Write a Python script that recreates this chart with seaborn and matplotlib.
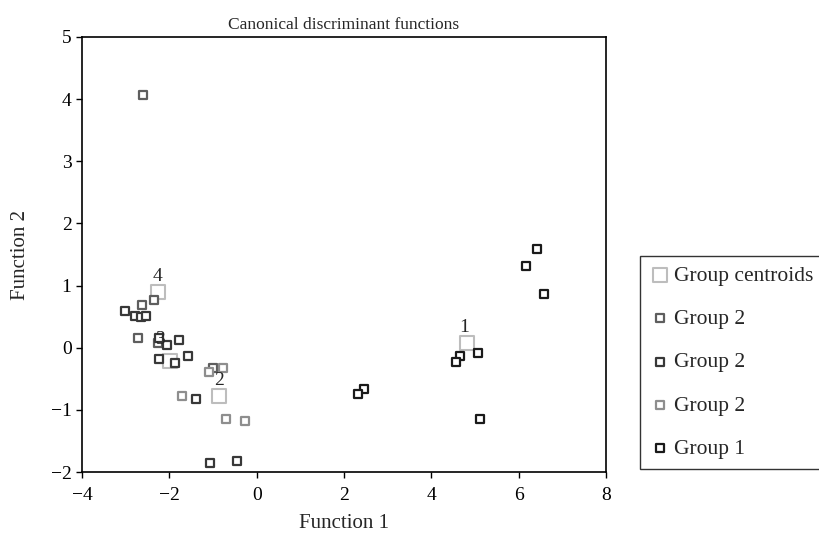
import matplotlib
matplotlib.use('Agg')
import matplotlib.pyplot as plt
import seaborn as sns

# 数据：判别函数得分
g1_x = [6.42, 6.17, 6.58, 5.07, 4.66, 4.57, 2.45, 2.33, 5.11]
g1_y = [1.59, 1.31, 0.87, -0.08, -0.13, -0.23, -0.67, -0.74, -1.14]

# 三个 "Group 2" 图例项（颜色不同）
g2a_x = [-2.60, -2.63, -2.35, -2.72, -2.27, -1.01]
g2a_y = [4.06, 0.69, 0.77, 0.15, 0.08, -0.33]

g2b_x = [-3.01, -2.78, -2.65, -2.54, -2.24, -2.06, -1.77, -2.23, -1.86, -1.57, -1.38, -1.07, -0.46]
g2b_y = [0.59, 0.51, 0.49, 0.51, 0.16, 0.05, 0.12, -0.18, -0.24, -0.13, -0.83, -1.85, -1.83]

g2c_x = [-1.09, -0.78, -1.70, -0.70, -0.26]
g2c_y = [-0.39, -0.33, -0.77, -1.14, -1.18]

cent_x = [4.82, -0.86, -1.99, -2.27]
cent_y = [0.08, -0.78, -0.21, 0.90]
cent_labels = ['1', '2', '3', '4']
cent_label_offsets = [(-2, 5), (0, 5), (-7, 9), (0, 5)]

x_ticks = [-4, -2, 0, 2, 4, 6, 8]
y_ticks = [-2, -1, 0, 1, 2, 3, 4, 5]

sns.set_style('ticks')
plt.rcParams['font.family'] = ['Liberation Serif', 'DejaVu Serif']
plt.rcParams['axes.unicode_minus'] = True

fig = plt.figure(figsize=(8.2, 5.33), dpi=100)
ax = fig.add_axes([0.1, 0.1144, 0.639, 0.8162])

# 质心
sns.scatterplot(x=cent_x, y=cent_y, marker='s', s=115, facecolor='white',
                edgecolor='#bdbdbd', linewidth=1.5, label='Group centroids', ax=ax, zorder=2)

groups = [
    (g2a_x, g2a_y, '#5e5e5e', 'Group 2'),
    (g2b_x, g2b_y, '#383838', 'Group 2'),
    (g2c_x, g2c_y, '#8e8e8e', 'Group 2'),
    (g1_x, g1_y, '#1a1a1a', 'Group 1'),
]
for gx, gy, col, lab in groups:
    sns.scatterplot(x=gx, y=gy, marker='s', s=26, facecolor='white',
                    edgecolor=col, linewidth=1.6, label=lab, ax=ax, zorder=3)

for cx, cy, lab, off in zip(cent_x, cent_y, cent_labels, cent_label_offsets):
    ax.annotate(lab, (cx, cy), xytext=off, textcoords='offset points',
                ha='center', va='bottom', fontsize=14, zorder=4)

ax.set_xlim(-4, 8)
ax.set_ylim(-2, 5)
ax.set_xticks(x_ticks)
ax.set_yticks(y_ticks)
ax.tick_params(direction='out', length=4, width=1, labelsize=14, colors='black')
ax.tick_params(axis='x', pad=7)
for sp in ax.spines.values():
    sp.set_visible(True)
    sp.set_color('black')
    sp.set_linewidth(1.2)

ax.set_title('Canonical discriminant functions', fontsize=12.5, pad=6)
ax.set_xlabel('Function 1', fontsize=15, labelpad=7)
ax.set_ylabel('Function 2', fontsize=15, labelpad=15)

leg = ax.legend(loc='upper left', bbox_to_anchor=(640 / 820, 1 - 256 / 533),
                bbox_transform=fig.transFigure, borderaxespad=0, frameon=True,
                fancybox=False, edgecolor='black', fontsize=15.5, labelspacing=1.08,
                handletextpad=0.15, handlelength=1.0, borderpad=0.45)
leg.get_frame().set_linewidth(1.0)

fig.savefig('out.png', dpi=100)
